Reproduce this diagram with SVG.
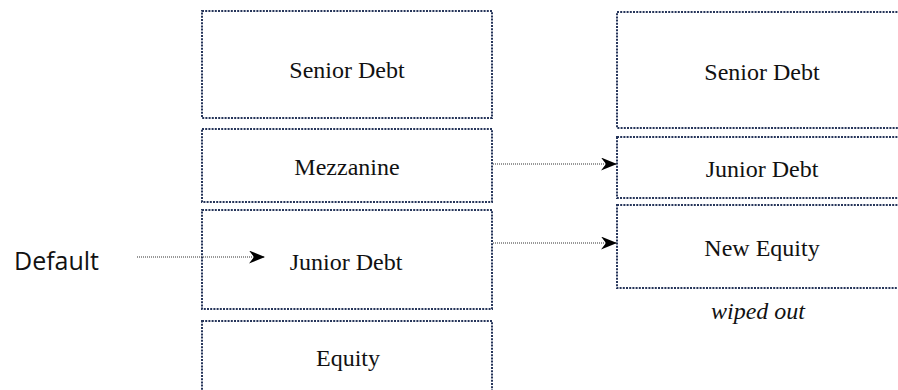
<svg xmlns="http://www.w3.org/2000/svg" width="898" height="390" viewBox="0 0 898 390">
<defs>
<style>
.box{fill:#fff;stroke:#26355a;stroke-width:2;stroke-dasharray:2 1.2}
.lbl{font-family:"Liberation Serif","Times New Roman",serif;font-size:24px;fill:#111;text-anchor:middle}
.gar{font-family:"Liberation Serif","Times New Roman",serif;font-size:24px;fill:#111;text-anchor:middle}
.it{font-style:italic;font-size:24px}
.side{font-family:"Open Sans","Liberation Sans",sans-serif;font-size:25px;fill:#111}
.conn{fill:none;stroke:#333;stroke-width:1.2;stroke-dasharray:1 1}
</style>
<marker id="arr" viewBox="0 0 16 13" refX="16" refY="6.5" markerWidth="16" markerHeight="13" markerUnits="userSpaceOnUse" orient="auto">
<path d="M0,0 L16,6.5 L0,13 L5,6.5 Z" fill="#000"/>
</marker>
</defs>
<rect width="898" height="390" fill="#fff"/>
<g id="left-senior"><rect class="box" x="202" y="11" width="290" height="107"/><text class="lbl" x="347" y="78">Senior Debt</text></g>
<g id="left-mezzanine"><rect class="box" x="202" y="129" width="290" height="73"/><text class="lbl" x="347" y="175">Mezzanine</text></g>
<g id="left-junior"><rect class="box" x="202" y="210" width="290" height="99"/><text class="lbl" x="346" y="270">Junior Debt</text></g>
<g id="left-equity"><rect class="box" x="202" y="321" width="290" height="90"/><text class="lbl" x="348" y="366">Equity</text></g>
<g id="right-senior"><rect class="box" x="617" y="12" width="300" height="116"/><text class="gar" x="762" y="80">Senior Debt</text></g>
<g id="right-junior"><rect class="box" x="617" y="137" width="300" height="61"/><text class="gar" x="762" y="177">Junior Debt</text></g>
<g id="right-newequity"><rect class="box" x="617" y="205" width="300" height="83"/><text class="gar" x="762" y="256">New Equity</text></g>
<g id="wiped"><text class="gar it" x="758" y="319">wiped out</text></g>
<g id="default"><text class="side" x="14" y="270">Default</text></g>
<g id="connectors">
<line class="conn" x1="137" y1="257" x2="265" y2="257" marker-end="url(#arr)"/>
<line class="conn" x1="493" y1="164" x2="617" y2="164" marker-end="url(#arr)"/>
<line class="conn" x1="493" y1="243" x2="617" y2="243" marker-end="url(#arr)"/>
</g>
</svg>
